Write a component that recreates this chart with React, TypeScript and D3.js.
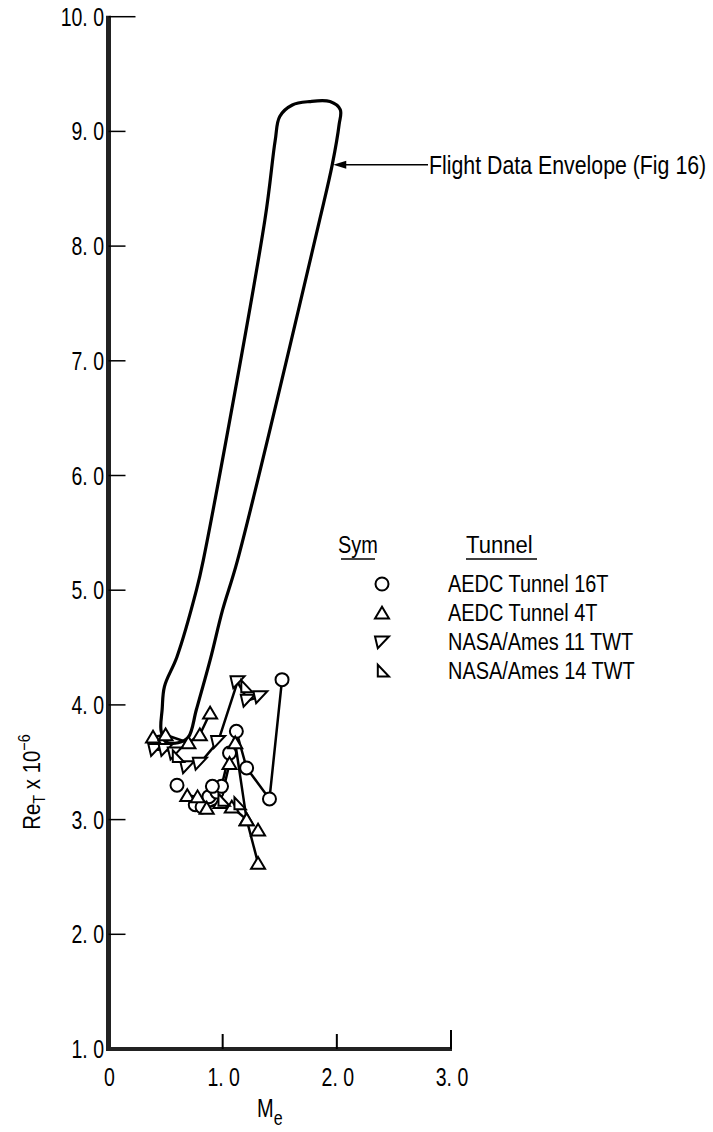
import React from "react";
import * as d3 from "d3";

type P = [number, number];

// Tick values
const yTicks = [1, 2, 3, 4, 5, 6, 7, 8, 9, 10];
const xTicks = [0, 1, 2, 3];
const xTickLabels = ["0", "1. 0", "2. 0", "3. 0"];

// Flight data envelope outline (Me, Re x 10^-6)
const envelope: P[] = [
  [1.5, 9.13], [1.61, 9.23], [1.76, 9.26], [1.94, 9.26], [2.03, 9.19], [2.02, 9.06],
  [1.96, 8.71], [1.85, 8.23], [1.13, 5.26], [1.0, 4.83], [0.89, 4.39], [0.77, 3.96],
  [0.7, 3.72], [0.61, 3.67], [0.5, 3.68], [0.46, 3.78], [0.47, 3.96], [0.49, 4.16],
  [0.6, 4.42], [0.77, 5.0], [0.83, 5.26], [1.37, 8.23], [1.46, 8.92],
];

// Wind tunnel data (chains are connected by lines)
const aedc16T: P[][] = [
  [[0.76, 3.13], [0.82, 3.11], [0.88, 3.2], [0.95, 3.24], [0.99, 3.29], [1.06, 3.58], [1.12, 3.77], [1.21, 3.45], [1.41, 3.18], [1.52, 4.22]],
  [[0.6, 3.3]],
  [[0.91, 3.29]],
];
const aedc4T: P[][] = [
  [[0.39, 3.72], [0.5, 3.74], [0.7, 3.67], [0.8, 3.74], [0.89, 3.93]],
  [[0.69, 3.21], [0.78, 3.2], [0.86, 3.1], [0.98, 3.15], [1.06, 3.49], [1.11, 3.67], [1.21, 3.0], [1.31, 2.62]],
  [[1.08, 3.11], [1.21, 3.0]],
  [[1.31, 2.91]],
];
const ames11: P[][] = [
  [[0.41, 3.61], [0.5, 3.61], [0.58, 3.58], [0.69, 3.46]],
  [[0.8, 3.49], [0.96, 3.68], [1.13, 4.2], [1.22, 4.04], [1.33, 4.07]],
];
const ames14: P[][] = [
  [[1.2, 4.16]],
  [[0.6, 3.55]],
  [[1.0, 3.17]],
  [[1.14, 3.14]],
];

const legendSyms = ["circle", "up", "down11", "tri14"];
const legendLabels = ["AEDC Tunnel 16T", "AEDC Tunnel 4T", "NASA/Ames 11 TWT", "NASA/Ames 14 TWT"];

const FONT = "'Liberation Sans', Arial, sans-serif";

function Txt({
  x, y, size, sx = 0.82, anchor = "start", children,
}: { x: number; y: number; size: number; sx?: number; anchor?: string; children: React.ReactNode }) {
  return (
    <text transform={`translate(${x},${y}) scale(${sx},1)`} fontSize={size} textAnchor={anchor as any}>
      {children}
    </text>
  );
}

function Marker({ kind, x, y }: { kind: string; x: number; y: number }) {
  const s = 7;
  const common = { fill: "white", stroke: "black", strokeWidth: 2 };
  if (kind === "circle") return <circle cx={x} cy={y} r={6.5} {...common} />;
  let pts: P[] = [];
  if (kind === "up") pts = [[x - s, y + s * 0.8], [x + s, y + s * 0.8], [x, y - s * 0.9]];
  if (kind === "down11") pts = [[x - s, y - s * 0.8], [x + s, y - s * 0.8], [x - s * 0.6, y + s * 0.9]];
  if (kind === "tri14") pts = [[x - s * 0.6, y - s * 0.9], [x - s * 0.6, y + s * 0.8], [x + s, y + s * 0.8]];
  return <polygon points={pts.map((p) => p.join(",")).join(" ")} {...common} strokeLinejoin="miter" />;
}

export default function App() {
  const W = 713, H = 1132;
  const x = d3.scaleLinear().domain([0, 3]).range([108.5, 451]);
  const y = d3.scaleLinear().domain([1, 10]).range([1049, 16.7]);
  const line = d3.line<P>().x((d) => x(d[0])).y((d) => y(d[1]));
  const envPath = d3
    .line<P>()
    .x((d) => x(d[0]))
    .y((d) => y(d[1]))
    .curve(d3.curveCatmullRomClosed.alpha(0.5))(envelope);

  const series: { kind: string; data: P[][] }[] = [
    { kind: "circle", data: aedc16T },
    { kind: "up", data: aedc4T },
    { kind: "down11", data: ames11 },
    { kind: "tri14", data: ames14 },
  ];

  const arrowY = y(8.71);
  const legendX = 382;
  const legendTextX = 448;
  const legendY0 = 584;
  const legendDy = 29;

  return (
    <svg width={W} height={H} style={{ position: "absolute", left: 0, top: 0, background: "white" }} fontFamily={FONT}>
      <rect width={W} height={H} fill="white" />
      {/* envelope */}
      <path d={envPath ?? ""} fill="none" stroke="black" strokeWidth={3.2} />
      {/* annotation arrow */}
      <line x1={x(1.96) + 12} y1={arrowY} x2={428} y2={arrowY} stroke="black" strokeWidth={1.5} />
      <polygon
        points={`${x(1.96) + 1},${arrowY} ${x(1.96) + 14},${arrowY - 4} ${x(1.96) + 14},${arrowY + 4}`}
        fill="black"
      />
      <Txt x={429} y={arrowY + 9} size={26} sx={0.82}>Flight Data Envelope (Fig 16)</Txt>

      {/* data lines */}
      {series.map((s, i) =>
        s.data.filter((c) => c.length > 1).map((c, j) => (
          <path key={`l${i}-${j}`} d={line(c) ?? ""} fill="none" stroke="black" strokeWidth={2.5} />
        ))
      )}
      {/* markers */}
      {series.map((s, i) =>
        s.data.flat().map((p, j) => <Marker key={`m${i}-${j}`} kind={s.kind} x={x(p[0])} y={y(p[1])} />)
      )}

      {/* axes */}
      <line x1={x(0)} y1={y(10) - 1} x2={x(0)} y2={y(1) + 2} stroke="#222" strokeWidth={5} />
      <line x1={x(0) - 2} y1={y(1)} x2={x(3) + 1} y2={y(1)} stroke="#222" strokeWidth={4} />
      <line x1={x(0)} y1={y(10)} x2={x(0) + 27} y2={y(10)} stroke="black" strokeWidth={1.5} />
      {yTicks.filter((v) => v > 1 && v < 10).map((v) => (
        <line key={`yt${v}`} x1={x(0)} y1={y(v)} x2={x(0) + 17} y2={y(v)} stroke="black" strokeWidth={1.5} />
      ))}
      {xTicks.filter((v) => v > 0).map((v) => (
        <line key={`xt${v}`} x1={x(v)} y1={y(1)} x2={x(v)} y2={y(1) - (v === 3 ? 19 : 15)} stroke="black" strokeWidth={2} />
      ))}
      {yTicks.map((v) => (
        <Txt key={`yl${v}`} x={104} y={y(v) + 9} size={25} sx={0.78} anchor="end">{`${v}. 0`}</Txt>
      ))}
      {xTicks.map((v, i) => (
        <Txt key={`xl${v}`} x={x(v) + 1} y={1086} size={25} sx={0.78} anchor="middle">{xTickLabels[i]}</Txt>
      ))}
      <Txt x={257} y={1117} size={25} sx={0.8}>
        M<tspan fontSize={20} dy={8}>e</tspan>
      </Txt>
      <text transform={`translate(40, 782) rotate(-90) scale(0.85,1)`} fontSize={24} textAnchor="middle">
        Re<tspan fontSize={17} dy={5}>T</tspan>
        <tspan dy={-5}> x 10</tspan>
        <tspan fontSize={17} dy={-10}>−6</tspan>
      </text>

      {/* legend */}
      <Txt x={358} y={553} size={24} sx={0.83} anchor="middle">Sym</Txt>
      <line x1={341} y1={559} x2={375} y2={559} stroke="black" strokeWidth={1.5} />
      <Txt x={466} y={553} size={24} sx={0.92}>Tunnel</Txt>
      <line x1={466} y1={559} x2={537} y2={559} stroke="black" strokeWidth={1.5} />
      {legendLabels.map((lab, i) => (
        <g key={lab}>
          <Marker kind={legendSyms[i]} x={legendX} y={legendY0 + i * legendDy} />
          <Txt x={legendTextX} y={legendY0 + i * legendDy + 8} size={24} sx={0.83}>{lab}</Txt>
        </g>
      ))}
    </svg>
  );
}
